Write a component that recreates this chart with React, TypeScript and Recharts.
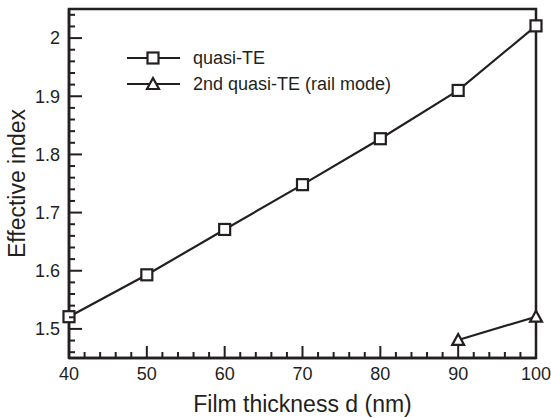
import { LineChart, Line, XAxis, YAxis, ReferenceArea, Legend } from 'recharts';

const thickness = [40, 50, 60, 70, 80, 90, 100];
const quasiTE = [1.521, 1.593, 1.671, 1.748, 1.827, 1.91, 2.021];
const railMode = [null, null, null, null, null, 1.481, 1.521];

const xMajor = [40, 50, 60, 70, 80, 90, 100];
const xTicks = [40, 42, 44, 46, 48, 50, 52, 54, 56, 58, 60, 62, 64, 66, 68, 70, 72, 74, 76, 78, 80, 82, 84, 86, 88, 90, 92, 94, 96, 98, 100];
const yMajor = [1.5, 1.6, 1.7, 1.8, 1.9, 2];
const yTicks = [1.46, 1.48, 1.5, 1.52, 1.54, 1.56, 1.58, 1.6, 1.62, 1.64, 1.66, 1.68, 1.7, 1.72, 1.74, 1.76, 1.78, 1.8, 1.82, 1.84, 1.86, 1.88, 1.9, 1.92, 1.94, 1.96, 1.98, 2, 2.02, 2.04];

const data = thickness.map((d, i) => ({ d, te: quasiTE[i], rail: railMode[i] }));

const INK = '#231f20';
const FONT = '"Liberation Sans", Arial, sans-serif';
const MARGIN = 9;

const isMajor = (list: number[], v: number) => list.some((m) => Math.abs(m - v) < 1e-6);

function XTick({ x, y, payload }: any) {
  const axisY = y - MARGIN;
  const major = isMajor(xMajor, payload.value);
  return (
    <g>
      <line x1={x} x2={x} y1={axisY} y2={axisY - (major ? 12 : 6)} stroke={INK} strokeWidth={2} />
      {major && (
        <text x={x} y={y} dy="0.71em" textAnchor="middle" fontSize={18} fill={INK} fontFamily={FONT}>
          {payload.value}
        </text>
      )}
    </g>
  );
}

function YTick({ x, y, payload }: any) {
  const axisX = x + MARGIN;
  const major = isMajor(yMajor, payload.value);
  return (
    <g>
      <line x1={axisX} x2={axisX + (major ? 13 : 6)} y1={y} y2={y} stroke={INK} strokeWidth={2} />
      {major && (
        <text x={x} y={y} dy="0.355em" textAnchor="end" fontSize={18} fill={INK} fontFamily={FONT}>
          {payload.value}
        </text>
      )}
    </g>
  );
}

function SquareDot({ cx, cy }: any) {
  if (cx == null || cy == null) return null;
  return <rect x={cx - 5.5} y={cy - 5.5} width={11} height={11} fill="#fff" stroke={INK} strokeWidth={2.2} />;
}

function TriangleDot({ cx, cy }: any) {
  if (cx == null || cy == null) return null;
  return <path d={`M${cx},${cy - 6}L${cx + 6},${cy + 5}L${cx - 6},${cy + 5}Z`} fill="#fff" stroke={INK} strokeWidth={2.2} />;
}

const legendItems = [
  { name: 'quasi-TE', shape: 'square' },
  { name: '2nd quasi-TE (rail mode)', shape: 'triangle' },
];

function LegendBox() {
  return (
    <svg width={300} height={56} style={{ overflow: 'visible', display: 'block' }}>
      {legendItems.map((it, i) => {
        const cy = 13 + i * 26;
        return (
          <g key={it.name}>
            <line x1={0} x2={53} y1={cy} y2={cy} stroke={INK} strokeWidth={2.2} />
            {it.shape === 'square' ? <SquareDot cx={26} cy={cy} /> : <TriangleDot cx={26} cy={cy} />}
            <text x={66} y={cy} dy="0.355em" fontSize={18} fill={INK} fontFamily={FONT}>
              {it.name}
            </text>
          </g>
        );
      })}
    </svg>
  );
}

export default function App() {
  return (
    <div style={{ position: 'absolute', left: 0, top: 0, background: '#fff' }}>
      <LineChart width={551} height={418} data={data} margin={{ top: 9, right: 15, bottom: 0, left: 0 }}>
        <XAxis
          dataKey="d"
          type="number"
          domain={[40, 100]}
          ticks={xTicks}
          interval={0}
          tickLine={false}
          tickSize={0}
          tickMargin={MARGIN}
          tick={<XTick />}
          height={60}
          axisLine={{ stroke: INK, strokeWidth: 2.5 }}
          label={{ value: 'Film thickness d (nm)', position: 'insideBottom', offset: 6, fontSize: 23, fill: INK, fontFamily: FONT }}
        />
        <YAxis
          type="number"
          domain={[1.45, 2.05]}
          ticks={yTicks}
          interval={0}
          tickLine={false}
          tickSize={0}
          tickMargin={MARGIN}
          tick={<YTick />}
          width={69}
          axisLine={{ stroke: INK, strokeWidth: 2.5 }}
          label={{ value: 'Effective index', angle: -90, position: 'insideLeft', offset: 17, textAnchor: 'middle', fontSize: 23, fill: INK, fontFamily: FONT }}
        />
        <ReferenceArea x1={40} x2={100} y1={1.45} y2={2.05} fill="none" stroke={INK} strokeWidth={2.5} ifOverflow="visible" />
        <Legend
          layout="vertical"
          verticalAlign="middle"
          align="center"
          content={<LegendBox />}
          wrapperStyle={{ left: 127, top: 45, width: 300, height: 56 }}
        />
        <Line dataKey="te" stroke={INK} strokeWidth={2.2} dot={<SquareDot />} isAnimationActive={false} />
        <Line dataKey="rail" stroke={INK} strokeWidth={2.2} dot={<TriangleDot />} isAnimationActive={false} />
      </LineChart>
    </div>
  );
}
